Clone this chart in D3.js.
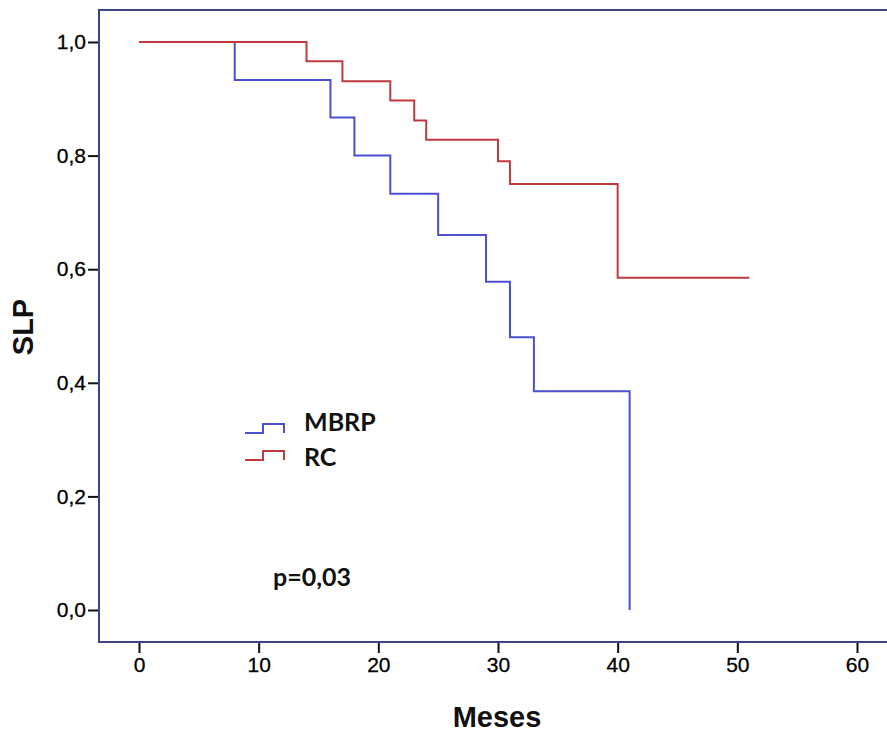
<!DOCTYPE html>
<html>
<head>
<meta charset="utf-8">
<script src="https://cdn.jsdelivr.net/npm/d3@7"></script>
<style>
  body { margin: 0; background: #fff; }
  svg { display: block; }
</style>
</head>
<body>
<script>
// Curvas de supervivencia (Kaplan-Meier)
const mbrpMeses = [0, 8, 16, 18, 21, 25, 29, 31, 33, 41];
const mbrpSLP = [1.0, 0.933, 0.867, 0.80, 0.733, 0.66, 0.578, 0.48, 0.385, 0.0];
const rcMeses = [0, 14, 17, 21, 23, 24, 30, 31, 40, 51];
const rcSLP = [1.0, 0.966, 0.931, 0.897, 0.862, 0.828, 0.79, 0.75, 0.585, 0.585];
const xTicks = [0, 10, 20, 30, 40, 50, 60];
const yTicks = [0, 0.2, 0.4, 0.6, 0.8, 1.0];
const grupos = ["MBRP", "RC"];
const colores = ["#4b4fd0", "#c0393f"];

const width = 887, height = 733;
const frame = { left: 99, top: 10, bottom: 642, right: 900 };

const svg = d3.select("body")
    .append("svg")
    .attr("width", width)
    .attr("height", height);

// escalas
const x = d3.scaleLinear().domain([0, 60]).range([139, 857]);
const y = d3.scaleLinear().domain([0, 1]).range([610, 42]);

// ejes
const fmt = d => d3.format(".1f")(d).replace(".", ",");

const yAxis = svg.append("g")
    .attr("transform", `translate(${frame.left},0)`)
    .call(d3.axisLeft(y).tickValues(yTicks).tickFormat(fmt).tickSize(11).tickPadding(2));
yAxis.select(".domain").remove();
yAxis.selectAll(".tick line").attr("stroke", "#111").attr("stroke-width", 2);
yAxis.selectAll("text")
    .attr("fill", "#000")
    .attr("stroke", "#000")
    .attr("stroke-width", 0.3)
    .style("font-family", "'Liberation Sans', Arial, sans-serif")
    .style("font-size", "21px");

const xAxis = svg.append("g")
    .attr("transform", `translate(0,${frame.bottom})`)
    .call(d3.axisBottom(x).tickValues(xTicks).tickSize(11).tickPadding(4));
xAxis.select(".domain").remove();
xAxis.selectAll(".tick line").attr("stroke", "#111").attr("stroke-width", 2);
xAxis.selectAll("text")
    .attr("fill", "#000")
    .attr("stroke", "#000")
    .attr("stroke-width", 0.3)
    .style("font-family", "'Liberation Sans', Arial, sans-serif")
    .style("font-size", "21px");

// marco
svg.append("path")
    .attr("d", `M${frame.right},${frame.top}H${frame.left}V${frame.bottom}H${frame.right}`)
    .attr("fill", "none")
    .attr("stroke", "#3a4585")
    .attr("stroke-width", 2);

// curvas escalonadas
const line = d3.line()
    .x(d => x(d[0]))
    .y(d => y(d[1]))
    .curve(d3.curveStepAfter);

const series = [
    d3.zip(mbrpMeses, mbrpSLP),
    d3.zip(rcMeses, rcSLP)
];

svg.append("g")
    .selectAll("path")
    .data(series)
    .join("path")
    .attr("d", line)
    .attr("fill", "none")
    .attr("stroke", (d, i) => colores[i])
    .attr("stroke-width", 2);

// leyenda
const legend = svg.append("g").attr("transform", "translate(245,0)");
grupos.forEach((g, i) => {
    legend.append("path")
        .attr("d", `M0,${433 + i * 27}h18v-9h21v9`)
        .attr("fill", "none")
        .attr("stroke", colores[i])
        .attr("stroke-width", 2);
    legend.append("text")
        .attr("x", 59)
        .attr("y", 431 + i * 35)
        .attr("fill", "#111")
        .style("font-family", "Lato, 'Open Sans', sans-serif")
        .style("font-weight", "bold")
        .style("font-size", "25px")
        .text(g);
});

svg.append("text")
    .attr("x", 273)
    .attr("y", 586)
    .attr("fill", "#111")
    .style("font-family", "Lato, 'Open Sans', sans-serif")
    .style("font-weight", "bold")
    .style("font-size", "25px")
    .text("p=0,03");

// títulos de ejes
svg.append("text")
    .attr("x", 497)
    .attr("y", 727)
    .attr("text-anchor", "middle")
    .attr("fill", "#111")
    .style("font-family", "'Liberation Sans', Arial, sans-serif")
    .style("font-weight", "bold")
    .style("font-size", "29px")
    .text("Meses");

svg.append("text")
    .attr("transform", "translate(33,327) rotate(-90)")
    .attr("text-anchor", "middle")
    .attr("fill", "#111")
    .style("font-family", "'Liberation Sans', Arial, sans-serif")
    .style("font-weight", "bold")
    .style("font-size", "29px")
    .text("SLP");
</script>
</body>
</html>
